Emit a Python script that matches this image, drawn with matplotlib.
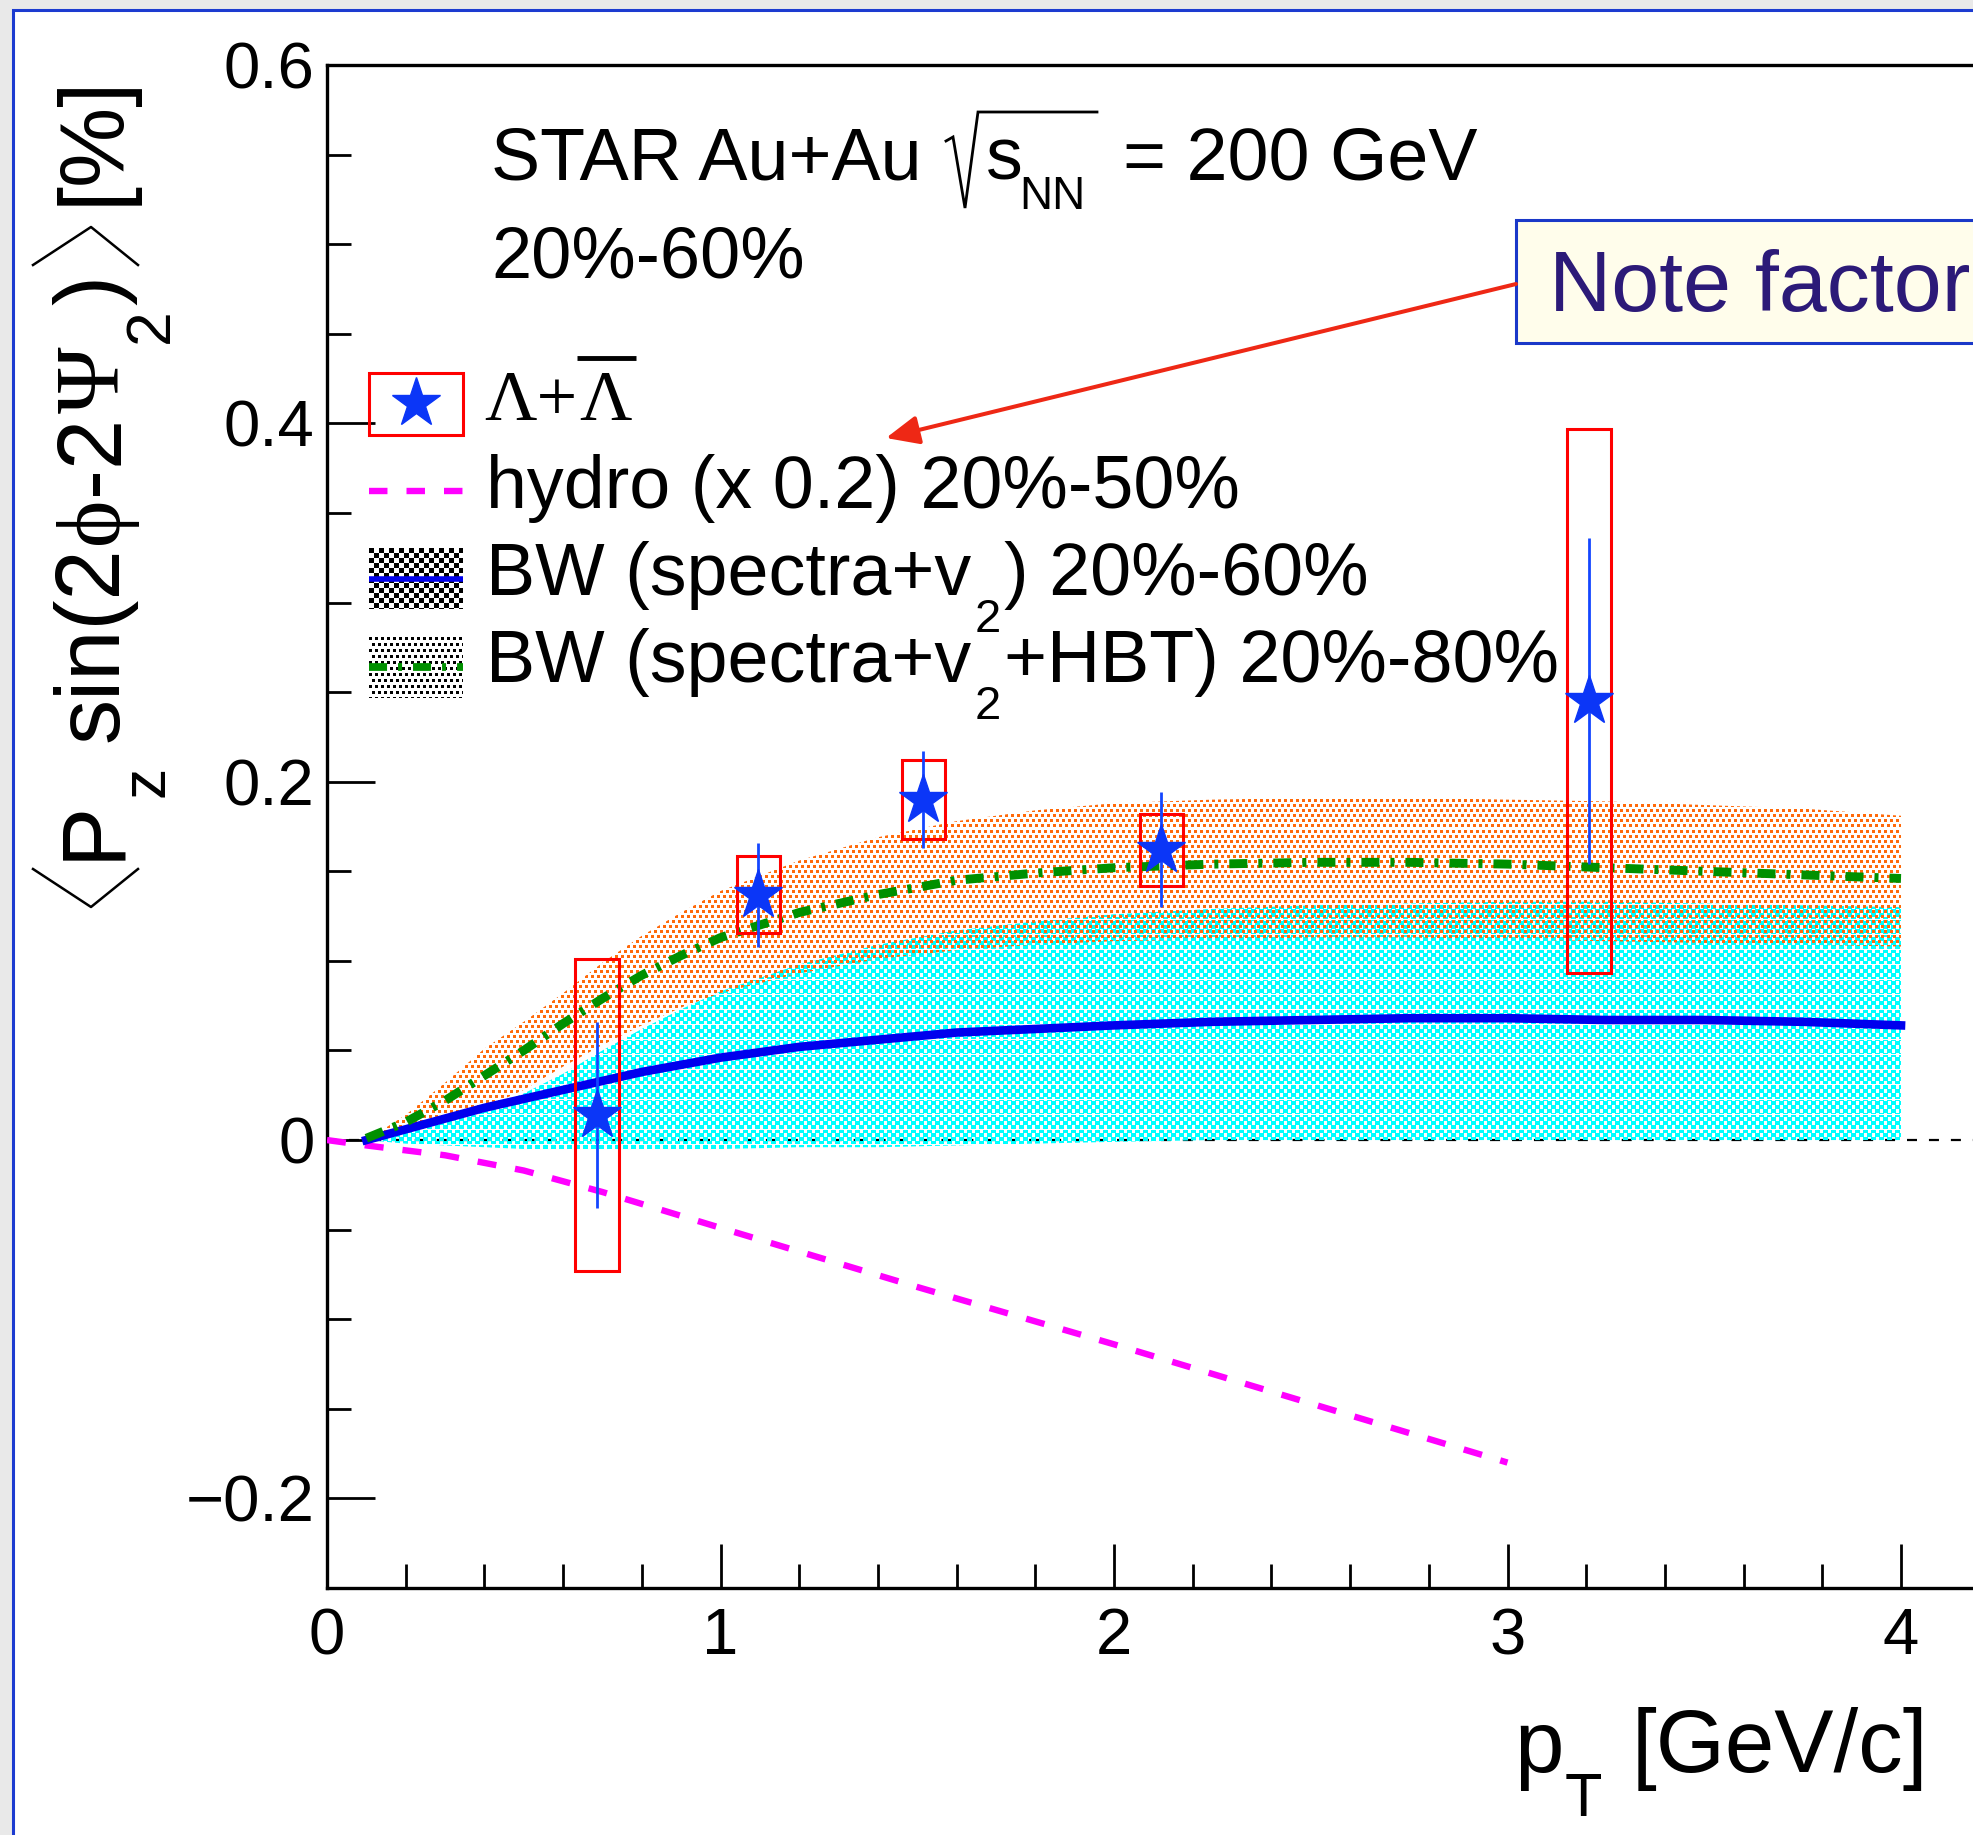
import numpy as np
import matplotlib
matplotlib.use("Agg")
import matplotlib.pyplot as plt
from matplotlib.patches import Rectangle, Polygon
from matplotlib.colors import to_rgb
from matplotlib.ticker import MultipleLocator, FuncFormatter

W, H = 1973, 1835

plt.rcParams['font.family'] = ['Liberation Sans', 'DejaVu Sans']
plt.rcParams['lines.scale_dashes'] = False

SANS = ['Liberation Sans', 'DejaVu Sans']
SERIF = ['Liberation Serif', 'DejaVu Serif']

# Lambda + anti-Lambda polarization, STAR Au+Au 200 GeV, 20%-60%
pt = [0.686, 1.096, 1.515, 2.120, 3.207]
pz = [0.014, 0.137, 0.190, 0.162, 0.245]
pz_stat = [0.052, 0.029, 0.027, 0.032, 0.091]
pz_sys = [0.087, 0.0215, 0.022, 0.020, 0.152]

# hydro calculation (x 0.2), 20%-50%
hydro_pt = [0.0, 0.1, 0.3, 0.5, 0.7, 1.0, 1.5, 2.0, 2.5, 3.0]
hydro_pz = [0.0, -0.003, -0.0085, -0.017, -0.029, -0.049, -0.082, -0.114, -0.147, -0.180]

# blast-wave fits
bw_pt = [0.1, 0.2, 0.3, 0.4, 0.5, 0.6, 0.7, 0.8, 0.9, 1.0, 1.2, 1.4, 1.6, 1.8,
         2.0, 2.25, 2.5, 2.75, 3.0, 3.25, 3.5, 3.75, 4.0]
# spectra + v2, 20%-60%
bw_v2 = [0.000, 0.006, 0.012, 0.018, 0.023, 0.028, 0.033, 0.038, 0.042, 0.046, 0.052, 0.056,
         0.060, 0.062, 0.064, 0.066, 0.067, 0.068, 0.068, 0.067, 0.067, 0.066, 0.064]
bw_v2_lo = [0.000, -0.002, -0.003, -0.004, -0.005, -0.005, -0.005, -0.005, -0.005, -0.005,
            -0.004, -0.004, -0.003, -0.002, -0.001, 0.0, 0.0, 0.0, 0.0, 0.0, 0.0, 0.0, 0.0]
bw_v2_hi = [0.000, 0.004, 0.010, 0.017, 0.026, 0.037, 0.050, 0.062, 0.073, 0.083, 0.098, 0.109,
            0.117, 0.122, 0.126, 0.129, 0.131, 0.132, 0.133, 0.133, 0.132, 0.131, 0.130]
# spectra + v2 + HBT, 20%-80%
bw_hbt = [0.001, 0.010, 0.022, 0.036, 0.050, 0.065, 0.079, 0.092, 0.103, 0.113, 0.127, 0.137,
          0.145, 0.149, 0.152, 0.154, 0.155, 0.155, 0.154, 0.152, 0.150, 0.148, 0.146]
bw_hbt_lo = [0.000, 0.004, 0.010, 0.018, 0.028, 0.041, 0.053, 0.064, 0.074, 0.082, 0.093, 0.101,
             0.106, 0.109, 0.111, 0.112, 0.113, 0.113, 0.112, 0.111, 0.110, 0.109, 0.108]
bw_hbt_hi = [0.000, 0.014, 0.032, 0.051, 0.066, 0.082, 0.099, 0.114, 0.127, 0.139, 0.156, 0.169,
             0.178, 0.184, 0.188, 0.190, 0.191, 0.191, 0.190, 0.189, 0.187, 0.185, 0.181]

STAR_BLUE = '#0b36f7'
ERR_BLUE = '#1446ff'
BOX_HW = 0.055


def pattern(h, w, kind, color):
    yy, xx = np.mgrid[0:h, 0:w]
    if kind == 'checker':
        on = (((yy // 4 + xx // 4) % 2 == 0) | (xx % 4 == 0)) & (yy % 15 != 14)
    elif kind == 'dots':
        on = ((xx + 3 * ((yy // 5) % 2)) % 6 < 3) & (yy % 5 < 3)
    elif kind == 'fine_checker':
        on = ((yy // 5 + xx // 5) % 2 == 0)
    else:
        on = ((xx + 3 * ((yy // 6) % 2)) % 6 < 3) & (yy % 6 < 3)
    img = np.zeros((h, w, 4))
    img[on] = (*to_rgb(color), 1.0)
    return img


fig = plt.figure(figsize=(W / 100, H / 100), dpi=100, facecolor='#e9e9e9')

# white slide with its blue frame
bg = fig.add_axes([0, 0, 1, 1])
bg.set_zorder(-1)
bg.axis('off')
bg.set_xlim(0, W)
bg.set_ylim(H, 0)
bg.add_patch(Rectangle((12.5, 10.5), W + 50, H + 50, facecolor='white',
                       edgecolor='#1c3bd0', lw=2.2))

# main frame
X0, Y0, Y1 = 327, 65, 1588
xmax = (W - X0) / 393.5
ymin, ymax = -0.25, 0.6
ax = fig.add_axes([X0 / W, 1 - Y1 / H, 1 - X0 / W, (Y1 - Y0) / H])
ax.set_zorder(1)
ax.set_facecolor('none')

aw, ah = W - X0, Y1 - Y0


def band(x, lo, hi, img, z):
    verts = np.column_stack([np.r_[x, x[::-1]], np.r_[lo, hi[::-1]]])
    clip = Polygon(verts, closed=True, transform=ax.transData)
    im = ax.imshow(img, extent=(0, xmax, ymin, ymax), origin='upper', aspect='auto',
                   interpolation='nearest', zorder=z)
    im.set_clip_path(clip)


ax.axhline(0, color='black', lw=1.6, dashes=(7.2, 8.6), zorder=1)
band(bw_pt, bw_v2_lo, bw_v2_hi, pattern(ah, aw, 'checker', '#00ffff'), 2)
band(bw_pt, bw_hbt_lo, bw_hbt_hi, pattern(ah, aw, 'dots', '#ff6a0a'), 2.1)

ax.plot(hydro_pt, hydro_pz, color='#ff00ff', lw=4.6, dashes=(13.7, 13.7), zorder=3)
ax.plot(bw_pt, bw_v2, color='#0000ee', lw=6.2, zorder=4)
ax.plot(bw_pt, bw_hbt, color='#009000', lw=6.4, dashes=(13, 7.9, 2.9, 7.9), zorder=4)

for x, y, s in zip(pt, pz, pz_sys):
    ax.add_patch(Rectangle((x - BOX_HW, y - s), 2 * BOX_HW, 2 * s, fill=False,
                           edgecolor='#ff0000', lw=2.2, zorder=5))
ax.errorbar(pt, pz, yerr=pz_stat, fmt='none', ecolor=ERR_BLUE, elinewidth=2,
            capsize=0, zorder=6)
ax.plot(pt, pz, ls='none', marker='*', ms=37, color=STAR_BLUE, mec=STAR_BLUE, zorder=7)

ax.set_xlim(0, xmax)
ax.set_ylim(ymin, ymax)
ax.xaxis.set_major_locator(MultipleLocator(1))
ax.xaxis.set_minor_locator(MultipleLocator(0.2))
ax.yaxis.set_major_locator(MultipleLocator(0.2))
ax.yaxis.set_minor_locator(MultipleLocator(0.05))
fmt = FuncFormatter(lambda v, p: '0' if abs(v) < 1e-9 else f'{v:g}'.replace('-', '\u2212'))
ax.xaxis.set_major_formatter(fmt)
ax.yaxis.set_major_formatter(fmt)
ax.tick_params(which='both', direction='in', top=False, right=False, width=2)
ax.tick_params(axis='x', which='major', length=32, labelsize=47, pad=14)
ax.tick_params(axis='y', which='major', length=34.5, labelsize=47, pad=9)
ax.tick_params(which='minor', length=17)
ax.spines['right'].set_visible(False)
for side in ('left', 'bottom', 'top'):
    ax.spines[side].set_linewidth(2.4)

# overlay in pixel coordinates for labels, legend and the note
ov = fig.add_axes([0, 0, 1, 1])
ov.set_zorder(3)
ov.axis('off')
ov.patch.set_alpha(0)

renderer = fig.canvas.get_renderer()


def write(x, y, parts, color='black', vertical=False):
    # parts: (text, size, baseline shift in px, family, gap after in px)
    for s, size, shift, fam, gap in parts:
        if vertical:
            t = ov.text(x + shift, y, s, fontsize=size, family=fam, color=color,
                        rotation=90, rotation_mode='anchor', ha='left', va='baseline')
            bb = t.get_window_extent(renderer)
            y = H - bb.y1 - gap
        else:
            t = ov.text(x, y + shift, s, fontsize=size, family=fam, color=color,
                        ha='left', va='baseline')
            bb = t.get_window_extent(renderer)
            x = bb.x1 + gap
    return x, y


ov.set_xlim(0, W)
ov.set_ylim(H, 0)

# y title: thin angle brackets drawn as strokes around the rotated text
YB = 118
ov.plot([33, YB - 27, 138], [869, 907, 869], color='black', lw=1.8)
_, yl = write(YB, 860, [('P', 65, 0, SANS, 3),
                        ('z', 45, 46, SANS, 24), ('sin(2', 65, 0, SANS, 2),
                        ('\u03d5', 65, 0, SERIF, 2), ('-2', 65, 0, SANS, 2),
                        ('\u03a8', 65, 0, SERIF, 3), ('2', 45, 50, SANS, 3),
                        (')', 65, 0, SANS, 10)], vertical=True)
ov.plot([33, YB - 27, 138], [yl, yl - 38, yl], color='black', lw=1.8)
write(YB, yl - 38 - 22, [('[%]', 65, 0, SANS, 0)], vertical=True)

write(1514, 1772, [('p', 64, 0, SANS, 1), ('T', 44, 44, SANS, 30),
                   ('[GeV/c]', 64, 0, SANS, 0)])

# header
ov.text(491, 180, 'STAR Au+Au', fontsize=53, ha='left', va='baseline')
ov.plot([946, 953, 965, 978, 1097], [141, 137, 208, 112, 112], color='black', lw=2,
        solid_joinstyle='miter')
ov.text(986, 180, 's', fontsize=53, ha='left', va='baseline')
ov.text(1019, 209, 'NN', fontsize=33, ha='left', va='baseline')
ov.text(1123, 180, '= 200 GeV', fontsize=53, ha='left', va='baseline')
ov.text(491, 278, '20%-60%', fontsize=52, ha='left', va='baseline')

# legend
ov.add_patch(Rectangle((369, 373), 94, 62, fill=False, edgecolor='#ff0000', lw=2.2))
ov.plot([416], [403], ls='none', marker='*', ms=37, color=STAR_BLUE, mec=STAR_BLUE)
xe, _ = write(484, 420, [('\u039b+', 52, 0, SERIF, 2)])
t = ov.text(xe, 420, '\u039b', fontsize=52, family=SERIF, ha='left', va='baseline')
bb = t.get_window_extent(renderer)
ov.plot([bb.x0 - 2, bb.x1 + 4], [358, 358], color='black', lw=3.5, solid_capstyle='butt')

ov.plot([369, 463], [491, 491], color='#ff00ff', lw=4.6, dashes=(13.3, 13.7))
ov.text(486, 508, 'hydro (x 0.2) 20%-50%', fontsize=53, ha='left', va='baseline')

ov.imshow(pattern(61, 94, 'fine_checker', 'black'), extent=(369, 463, 609, 548),
          origin='upper', aspect='auto', interpolation='nearest')
ov.plot([369, 463], [579, 579], color='#0000ee', lw=4, solid_capstyle='butt')
write(486, 595, [('BW (spectra+v', 53, 0, SANS, 3), ('2', 34, 37, SANS, 4),
                 (') 20%-60%', 53, 0, SANS, 0)])

ov.imshow(pattern(61, 94, 'fine_dots', 'black'), extent=(369, 463, 698, 637),
          origin='upper', aspect='auto', interpolation='nearest')
ov.plot([369, 463], [667, 667], color='#009000', lw=5.6, dashes=(13, 7.9, 2.9, 7.9))
write(486, 682, [('BW (spectra+v', 53, 0, SANS, 3), ('2', 34, 37, SANS, 4),
                 ('+HBT) 20%-80%', 53, 0, SANS, 0)])

# note box with arrow
ov.add_patch(Rectangle((1516, 220), 600, 123, facecolor='#fffdeb', edgecolor='#1a38c8', lw=2.2))
ov.text(1549, 311, 'Note factor', fontsize=62, color='#2c1a78', ha='left', va='baseline')
ov.annotate('', xy=(886, 438), xytext=(1516, 284),
            arrowprops=dict(arrowstyle='-|>,head_length=0.5,head_width=0.22', color='#ee2815',
                            lw=2.9, mutation_scale=40, shrinkA=0, shrinkB=0))

ov.set_xlim(0, W)
ov.set_ylim(H, 0)

fig.savefig('out.png', dpi=100, facecolor=fig.get_facecolor())
